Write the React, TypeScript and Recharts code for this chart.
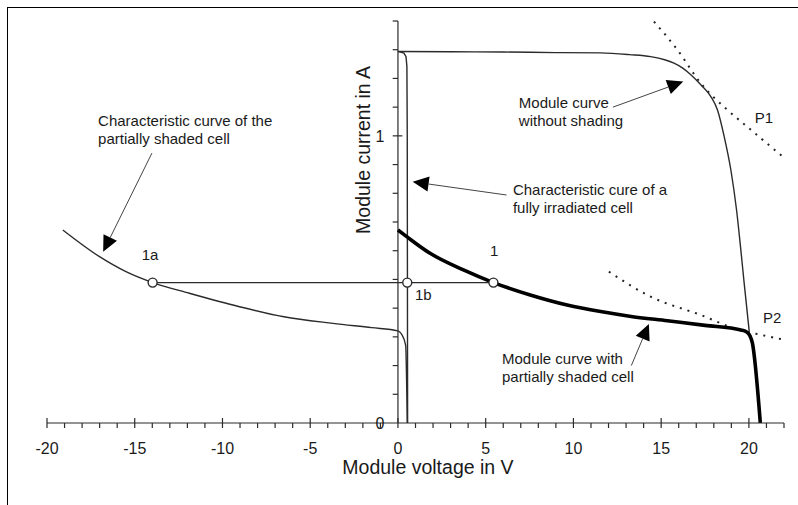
import { LineChart, Line, XAxis, YAxis, ReferenceLine, ReferenceDot } from "recharts";

// readings: module voltage (V) vs module current (A)
const noShadeCurve = [
  { x: 0, y: 1.294 }, { x: 3, y: 1.293 }, { x: 6, y: 1.292 }, { x: 9, y: 1.29 },
  { x: 11.55, y: 1.289 }, { x: 13.2, y: 1.283 }, { x: 14.4, y: 1.276 }, { x: 15.2, y: 1.265 },
  { x: 15.73, y: 1.253 }, { x: 16.25, y: 1.235 }, { x: 16.69, y: 1.213 }, { x: 17.26, y: 1.178 },
  { x: 17.83, y: 1.137 }, { x: 18.21, y: 1.09 }, { x: 18.59, y: 0.998 }, { x: 18.97, y: 0.882 },
  { x: 19.3, y: 0.74 }, { x: 19.54, y: 0.603 }, { x: 19.73, y: 0.487 }, { x: 20.02, y: 0.318 },
];

const fullCellCurve = [
  { x: 0, y: 1.294 }, { x: 0.34, y: 1.288 }, { x: 0.46, y: 1.276 }, { x: 0.51, y: 1.241 },
  { x: 0.53, y: 1.0 }, { x: 0.55, y: 0 },
];

const shadedModuleCurve = [
  { x: 0, y: 0.672 }, { x: 0.5, y: 0.649 }, { x: 1.83, y: 0.591 }, { x: 3.73, y: 0.533 },
  { x: 5.44, y: 0.489 }, { x: 7.54, y: 0.446 }, { x: 9.64, y: 0.411 }, { x: 11.55, y: 0.388 },
  { x: 13.2, y: 0.372 }, { x: 15.35, y: 0.356 }, { x: 17.5, y: 0.34 }, { x: 19.54, y: 0.324 },
  { x: 19.85, y: 0.318 }, { x: 20.05, y: 0.305 }, { x: 20.2, y: 0.278 }, { x: 20.65, y: 0 },
];

const shadedCellCurve = [
  { x: -19.1, y: 0.672 }, { x: -17.03, y: 0.58 }, { x: -15.5, y: 0.527 }, { x: -13.98, y: 0.489 },
  { x: -11.89, y: 0.452 }, { x: -9.03, y: 0.405 }, { x: -6.5, y: 0.37 }, { x: -3.7, y: 0.347 },
  { x: -1.5, y: 0.332 }, { x: 0, y: 0.321 }, { x: 0.2, y: 0.31 }, { x: 0.44, y: 0.27 }, { x: 0.53, y: 0 },
];

const powerP1 = [
  { x: 14.59, y: 1.398 }, { x: 15.92, y: 1.3 }, { x: 17.26, y: 1.183 },
  { x: 18.78, y: 1.09 }, { x: 19.9, y: 1.032 }, { x: 21.92, y: 0.928 },
];

const powerP2 = [
  { x: 12.02, y: 0.527 }, { x: 14.4, y: 0.44 }, { x: 17.26, y: 0.376 },
  { x: 19.16, y: 0.33 }, { x: 20.69, y: 0.307 }, { x: 22.1, y: 0.289 },
];

const operatingPoints = [
  { x: -13.98, y: 0.489 }, { x: 0.53, y: 0.489 }, { x: 5.44, y: 0.489 },
];

const xTicks = Array.from({ length: 43 }, (_, i) => i - 20);
const yTicks = [0.1, 0.2, 0.3, 0.4, 0.5, 0.6, 0.7, 0.8, 0.9, 1, 1.1, 1.2, 1.3, 1.4];
const yTickLabels = [0, 1];

const arrows = [
  { from: { x: -14.02, y: 0.94 }, to: { x: -16.8, y: 0.596 } },
  { from: { x: 12.25, y: 1.1 }, to: { x: 16.26, y: 1.189 } },
  { from: { x: 6.19, y: 0.794 }, to: { x: 0.84, y: 0.84 } },
  { from: { x: 13.3, y: 0.2 }, to: { x: 14.3, y: 0.345 } },
];

const notes = [
  { x: -17.09, y: 1.033, lines: ["Characteristic curve of the", "partially shaded cell"] },
  { x: 6.89, y: 1.098, lines: ["Module curve", "without shading"] },
  { x: 6.55, y: 0.794, lines: ["Characteristic cure of a", "fully irradiated cell"] },
  { x: 5.93, y: 0.204, lines: ["Module curve with", "partially shaded cell"] },
  { x: 20.34, y: 1.046, lines: ["P1"] },
  { x: 20.81, y: 0.349, lines: ["P2"] },
  { x: -14.6, y: 0.566, lines: ["1a"] },
  { x: 5.25, y: 0.582, lines: ["1"] },
  { x: 0.97, y: 0.43, lines: ["1b"] },
];

const INK = "#1a1a1a";
const LINE = "#2b2b2b";

const XTick = ({ x, y, payload }: any) => {
  const v = payload.value;
  const major = v % 5 === 0;
  return (
    <g>
      <line x1={x} x2={x} y1={major ? y - 5 : y} y2={y + 5} stroke={LINE} strokeWidth={1.2} />
      {major && v <= 20 && (
        <text x={x} y={y + 31} textAnchor="middle" fontSize={16} fill={INK}>
          {v}
        </text>
      )}
    </g>
  );
};

const Arrow = (p: any) => {
  const { x1, y1, x2, y2 } = p;
  const dx = x2 - x1;
  const dy = y2 - y1;
  const len = Math.hypot(dx, dy) || 1;
  const ux = dx / len;
  const uy = dy / len;
  const hl = 16;
  const hw = 7.5;
  const bx = x2 - ux * hl;
  const by = y2 - uy * hl;
  const pts = `${x2},${y2} ${bx - uy * hw},${by + ux * hw} ${bx + uy * hw},${by - ux * hw}`;
  return (
    <g>
      <line x1={x1} y1={y1} x2={bx} y2={by} stroke="#444" strokeWidth={1} />
      <polygon points={pts} fill="#000" />
    </g>
  );
};

const noteShape = (lines: string[]) => (p: any) => (
  <text x={p.cx} y={p.cy} fontSize={15} fill={INK}>
    {lines.map((l, i) => (
      <tspan key={i} x={p.cx} dy={i === 0 ? 0 : 18}>
        {l}
      </tspan>
    ))}
  </text>
);

const OpenDot = (p: any) => (
  <circle cx={p.cx} cy={p.cy} r={4.5} fill="#fff" stroke={LINE} strokeWidth={1.4} />
);

export default function App() {
  return (
    <div
      style={{
        position: "absolute",
        left: 0,
        top: 0,
        width: 798,
        height: 505,
        background: "#fff",
        fontFamily: "'Liberation Sans', Arial, sans-serif",
      }}
    >
      <div
        style={{
          position: "absolute",
          left: 7,
          top: 7,
          right: 0,
          bottom: 0,
          borderTop: "1.5px solid #000",
          borderLeft: "1.5px solid #000",
        }}
      />
      <LineChart
        width={798}
        height={505}
        margin={{ top: 21, right: 14, left: 47, bottom: 0 }}
        style={{ position: "absolute", left: 0, top: 0 }}
      >
        <XAxis
          type="number"
          dataKey="x"
          domain={[-20, 22]}
          allowDataOverflow
          ticks={xTicks}
          interval={0}
          tickLine={false}
          tickSize={0}
          tickMargin={0}
          tick={<XTick />}
          height={82}
          axisLine={{ stroke: LINE, strokeWidth: 1.2 }}
        />
        <YAxis type="number" dataKey="y" domain={[0, 1.4]} allowDataOverflow hide />

        <ReferenceLine
          segment={[{ x: 0, y: 0 }, { x: 0, y: 1.4 }]}
          stroke={LINE}
          strokeWidth={1.2}
          ifOverflow="visible"
        />
        {yTicks.map((v) => (
          <ReferenceLine
            key={`yt${v}`}
            segment={[{ x: -0.3, y: v }, { x: v === 1 ? 0.25 : 0, y: v }]}
            stroke={LINE}
            strokeWidth={1.2}
            ifOverflow="visible"
          />
        ))}
        {yTickLabels.map((v) => (
          <ReferenceDot
            key={`yl${v}`}
            x={0}
            y={v}
            r={0}
            ifOverflow="visible"
            shape={(p: any) => (
              <text x={p.cx - 18} y={p.cy + 6} textAnchor="middle" fontSize={16} fill={INK}>
                {v}
              </text>
            )}
          />
        ))}

        <Line data={powerP1} dataKey="y" type="monotone" stroke="#222" strokeWidth={2}
          strokeDasharray="2 6" dot={false} isAnimationActive={false} />
        <Line data={powerP2} dataKey="y" type="monotone" stroke="#222" strokeWidth={2}
          strokeDasharray="2 6" dot={false} isAnimationActive={false} />
        <Line data={noShadeCurve} dataKey="y" type="monotone" stroke={LINE} strokeWidth={1.4}
          dot={false} isAnimationActive={false} />
        <Line data={fullCellCurve} dataKey="y" type="linear" stroke={LINE} strokeWidth={1.4}
          dot={false} isAnimationActive={false} />
        <Line data={shadedCellCurve} dataKey="y" type="monotone" stroke={LINE} strokeWidth={1.4}
          dot={false} isAnimationActive={false} />
        <Line data={shadedModuleCurve} dataKey="y" type="monotone" stroke="#000" strokeWidth={3.6}
          dot={false} isAnimationActive={false} />
        <Line data={operatingPoints} dataKey="y" type="linear" stroke={LINE} strokeWidth={1.3}
          dot={<OpenDot />} isAnimationActive={false} />

        {arrows.map((a, i) => (
          <ReferenceLine key={`ar${i}`} segment={[a.from, a.to]} ifOverflow="visible" shape={Arrow} />
        ))}
        {notes.map((n, i) => (
          <ReferenceDot key={`n${i}`} x={n.x} y={n.y} r={0} ifOverflow="visible" shape={noteShape(n.lines)} />
        ))}

        <ReferenceDot
          x={-1.6}
          y={0.951}
          r={0}
          ifOverflow="visible"
          shape={(p: any) => (
            <text x={p.cx} y={p.cy} transform={`rotate(-90 ${p.cx} ${p.cy})`} textAnchor="middle"
              fontSize={19.5} fill={INK}>
              Module current in A
            </text>
          )}
        />
        <ReferenceDot
          x={1.71}
          y={-0.178}
          r={0}
          ifOverflow="visible"
          shape={(p: any) => (
            <text x={p.cx} y={p.cy} textAnchor="middle" fontSize={19.5} fill={INK}>
              Module voltage in V
            </text>
          )}
        />
      </LineChart>
    </div>
  );
}
